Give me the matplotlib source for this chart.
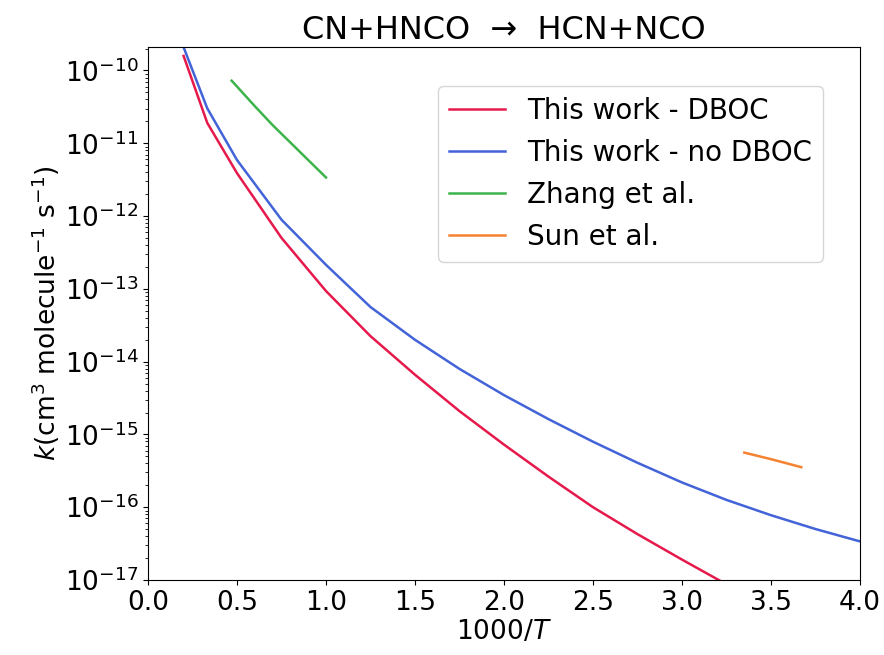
import matplotlib
matplotlib.use("Agg")
import matplotlib.pyplot as plt
import numpy as np

# 1000/T grid and log10(k)
x_calc = [0.2, 0.333, 0.5, 0.75, 1.0, 1.25, 1.5, 1.75, 2.0, 2.25, 2.5, 2.75, 3.0, 3.25, 3.5, 3.75, 4.0]
logk_dboc = [-9.80, -10.72, -11.41, -12.30, -13.03, -13.65, -14.18, -14.68, -15.14, -15.58, -16.00,
             -16.37, -16.72, -17.06, -17.38, -17.68, -17.96]
logk_nodboc = [-9.68, -10.52, -11.23, -12.05, -12.67, -13.25, -13.70, -14.10, -14.46, -14.79, -15.10,
               -15.39, -15.66, -15.90, -16.11, -16.30, -16.47]

x_zhang = [0.47, 0.6, 0.7, 0.8, 0.9, 1.0]
logk_zhang = [-10.14, -10.49, -10.75, -10.99, -11.23, -11.47]

x_sun = [3.35, 3.5, 3.67]
logk_sun = [-15.25, -15.34, -15.45]

labels = ["This work - DBOC", "This work - no DBOC", "Zhang et al.", "Sun et al."]
colors = ["#e6194b", "#4363d8", "#3cb44b", "#f58231"]


def main() -> None:
  plt.rcParams["font.family"] = ["DejaVu Sans"]
  fig = plt.figure(figsize=(8.84, 6.55), dpi=100)
  ax = fig.add_axes([0.1674, 0.1145, 0.8055, 0.8137])

  series = [(x_calc, logk_dboc), (x_calc, logk_nodboc), (x_zhang, logk_zhang), (x_sun, logk_sun)]
  for (xs, ys), lab, c in zip(series, labels, colors):
    ax.plot(xs, 10.0 ** np.array(ys), color=c, lw=1.8, label=lab)

  ax.set_yscale("log")
  ax.set_xlim(0, 4)
  ax.set_ylim(1e-17, 2.1e-10)
  ax.set_xticks(np.arange(0, 4.01, 0.5))
  ax.tick_params(labelsize=19)
  ax.set_xlabel("1000/$T$", fontsize=19, labelpad=2)
  ax.set_ylabel(r"$k$(cm$^3$ molecule$^{-1}$ s$^{-1}$)", fontsize=19, labelpad=2)
  ax.set_title("CN+HNCO  \u2192  HCN+NCO", fontsize=23, pad=6)
  ax.legend(fontsize=20, loc="upper right", bbox_to_anchor=(0.948, 0.927), borderaxespad=0)

  fig.savefig("out.png", dpi=100)
  plt.close(fig)


if __name__ == "__main__":
  main()
